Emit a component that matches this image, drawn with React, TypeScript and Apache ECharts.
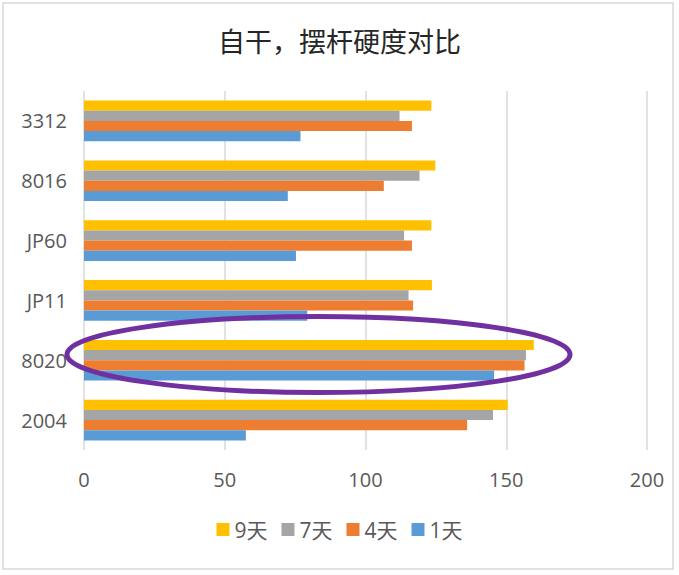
import { useEffect, useRef } from "react";
import * as echarts from "echarts";

// Categories listed bottom to top (category y axis runs upward)
const categories = ["2004", "8020", "JP11", "JP60", "8016", "3312"];

const day1 = [57.5, 145.7, 79.3, 75.3, 72.4, 76.9];
const day4 = [136.1, 156.5, 116.9, 116.5, 106.5, 116.5];
const day7 = [145.3, 157.0, 115.3, 113.7, 119.2, 112.1];
const day9 = [150.5, 159.8, 123.6, 123.4, 124.8, 123.4];

// First series is drawn at the top of each group
const seriesNames = ["9天", "7天", "4天", "1天"];
const colors = ["#FFC000", "#A5A5A5", "#ED7D31", "#5B9BD5"];

const labelFont = "'Open Sans', 'Noto Sans CJK SC', sans-serif";

export default function App() {
  const chartRef = useRef<HTMLDivElement>(null);

  useEffect(() => {
    if (!chartRef.current) return;
    const chart = echarts.init(chartRef.current, undefined, { renderer: "svg" });

    const values = [day9, day7, day4, day1];

    chart.setOption({
      animation: false,
      backgroundColor: "#ffffff",
      color: colors,
      title: {
        text: "自干，摆杆硬度对比",
        left: "center",
        top: 22,
        textStyle: {
          fontFamily: "'Noto Sans CJK SC', sans-serif",
          fontSize: 27,
          fontWeight: "normal",
          color: "#262626",
        },
      },
      legend: {
        data: seriesNames,
        bottom: 30,
        left: "center",
        itemWidth: 13,
        itemHeight: 13,
        itemGap: 14,
        icon: "rect",
        textStyle: { fontFamily: labelFont, fontSize: 21, color: "#595959" },
      },
      grid: { left: 84, right: 32, top: 91, bottom: 125 },
      xAxis: {
        type: "value",
        min: 0,
        max: 200,
        interval: 50,
        axisLine: { show: false },
        axisTick: { show: false },
        axisLabel: {
          margin: 19,
          fontFamily: labelFont,
          fontSize: 20,
          color: "#595959",
        },
        splitLine: { lineStyle: { color: "#d9d9d9", width: 1.5 } },
      },
      yAxis: {
        type: "category",
        data: categories,
        axisLine: { show: false },
        axisTick: { show: false },
        axisLabel: {
          margin: 17,
          fontFamily: labelFont,
          fontSize: 20,
          color: "#595959",
        },
      },
      series: seriesNames.map((name, i) => ({
        name,
        type: "bar",
        data: values[i],
        barGap: "0%",
        barCategoryGap: "32%",
        itemStyle: { color: colors[i] },
      })),
      graphic: [
        {
          type: "rect",
          shape: { x: 3, y: 3, width: 670, height: 566 },
          style: { fill: "none", stroke: "#d9d9d9", lineWidth: 1.5 },
          silent: true,
        },
        {
          type: "ellipse",
          shape: { cx: 318.5, cy: 354.5, rx: 251.5, ry: 38 },
          style: { fill: "none", stroke: "#7030A0", lineWidth: 5 },
          silent: true,
          z: 100,
        },
      ],
    });

    return () => {
      chart.dispose();
    };
  }, []);

  return (
    <div
      ref={chartRef}
      style={{ position: "fixed", left: 0, top: 0, width: 679, height: 575 }}
    />
  );
}
